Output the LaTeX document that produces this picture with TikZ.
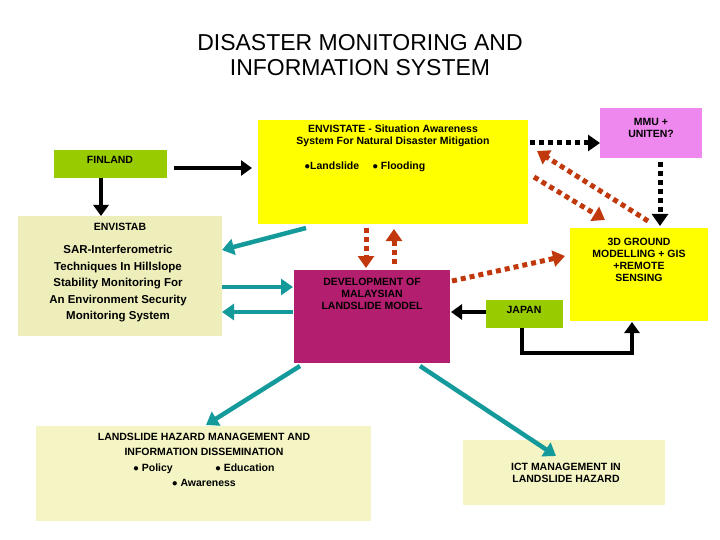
\documentclass[tikz,border=0pt]{standalone}
\usepackage{fontspec}
\setmainfont{Liberation Sans}
\usetikzlibrary{arrows.meta}
\definecolor{cyel}{HTML}{FFFF00}
\definecolor{cpink}{HTML}{EE88EE}
\definecolor{cgrn}{HTML}{99CC00}
\definecolor{cstab}{HTML}{EEEEBB}
\definecolor{cmag}{HTML}{B31E6E}
\definecolor{cpale}{HTML}{F4F4C4}
\definecolor{cred}{HTML}{C0380C}
\definecolor{cteal}{HTML}{149A9A}
\begin{document}
\begin{tikzpicture}[x=1pt,y=-1pt,
 box/.style={draw=none,inner sep=2pt,align=center,font=\bfseries\fontsize{10.5}{12}\selectfont},
 blk/.style={line width=4pt,-{Triangle[length=11pt,width=15pt]}},
 dblk/.style={line width=5pt,dash pattern=on 5pt off 4pt,-{Triangle[length=12pt,width=16pt]}},
 dred/.style={draw=cred,line width=5pt,dash pattern=on 5pt off 4pt,-{Triangle[length=12pt,width=16pt]}},
 teal/.style={draw=cteal,line width=4.5pt,-{Triangle[length=12pt,width=16pt]}}]
\useasboundingbox (0,0) rectangle (720,540);
\node[font=\fontsize{23}{25}\selectfont,align=center] (title) at (360,55) {DISASTER MONITORING AND\\INFORMATION SYSTEM};
\fill[cyel] (258,120) rectangle (528,224);
\node[box,anchor=north] (env) at (393,123) {ENVISTATE - Situation Awareness\\System For Natural Disaster Mitigation};
\node[box] (envb) at (365,167) {$\bullet$Landslide \quad $\bullet$ Flooding};
\fill[cpink] (600,108) rectangle (702,158);
\fill[cyel] (570,228) rectangle (708,321);
\fill[cgrn] (54,150) rectangle (167,178);
\fill[cstab] (18,216) rectangle (222,336);
\fill[cmag] (294,270) rectangle (450,363);
\fill[cgrn] (486,300) rectangle (563,328);
\fill[cpale] (36,426) rectangle (371,521);
\fill[cpale] (463,440) rectangle (665,505);
\node[box] (mmu) at (651,128) {MMU +\\UNITEN?};
\node[box] (gis) at (639,260) {3D GROUND\\MODELLING + GIS\\+REMOTE\\SENSING};
\node[box] (fin) at (110,160) {FINLAND};
\node[box] (estab) at (120,227) {ENVISTAB};
\node[box,font=\bfseries\fontsize{11.5}{16.5}\selectfont] (sar) at (118,284) {SAR-Interferometric\\Techniques In Hillslope\\Stability Monitoring For\\An Environment Security\\Monitoring System};
\node[box] (dev) at (372,294) {DEVELOPMENT OF\\MALAYSIAN\\LANDSLIDE MODEL};
\node[box] (jap) at (524,310) {JAPAN};
\node[box,font=\bfseries\fontsize{10.5}{15.5}\selectfont] (lhm) at (204,460) {LANDSLIDE HAZARD MANAGEMENT AND\\INFORMATION DISSEMINATION\\$\bullet$ Policy \hspace{3.5em} $\bullet$ Education\\$\bullet$ Awareness};
\node[box] (ict) at (566,473) {ICT MANAGEMENT IN\\LANDSLIDE HAZARD};
\coordinate (a1) at (174,168); \coordinate (a2) at (252,168);
\draw[blk] (a1) -- (a2);
\coordinate (b1) at (101,178); \coordinate (b2) at (101,216);
\draw[blk] (b1) -- (b2);
\coordinate (c1) at (530,143); \coordinate (c2) at (600,143);
\draw[dblk] (c1) -- (c2);
\coordinate (d1) at (660,162); \coordinate (d2) at (660,226);
\draw[dblk] (d1) -- (d2);
\coordinate (e1) at (534,177); \coordinate (e2) at (605,220);
\draw[dred] (e1) -- (e2);
\coordinate (f1) at (648,221); \coordinate (f2) at (537,151);
\draw[dred] (f1) -- (f2);
\coordinate (g1) at (366,228); \coordinate (g2) at (366,268);
\draw[dred] (g1) -- (g2);
\coordinate (h1) at (394,264); \coordinate (h2) at (394,229);
\draw[dred] (h1) -- (h2);
\coordinate (i1) at (452,281); \coordinate (i2) at (565,256);
\draw[dred] (i1) -- (i2);
\coordinate (j1) at (486,312); \coordinate (j2) at (451,312);
\draw[blk] (j1) -- (j2);
\coordinate (k1) at (522,328); \coordinate (k2) at (632,322);
\draw[blk] (k1) -- (522,353) -- (632,353) -- (k2);
\coordinate (l1) at (306,228); \coordinate (l2) at (222,250);
\draw[teal] (l1) -- (l2);
\coordinate (m1) at (222,287); \coordinate (m2) at (293,287);
\draw[teal] (m1) -- (m2);
\coordinate (n1) at (293,312); \coordinate (n2) at (222,312);
\draw[teal] (n1) -- (n2);
\coordinate (o1) at (300,366); \coordinate (o2) at (206,425);
\draw[teal] (o1) -- (o2);
\coordinate (p1) at (420,366); \coordinate (p2) at (556,456);
\draw[teal] (p1) -- (p2);
\end{tikzpicture}
\end{document}
